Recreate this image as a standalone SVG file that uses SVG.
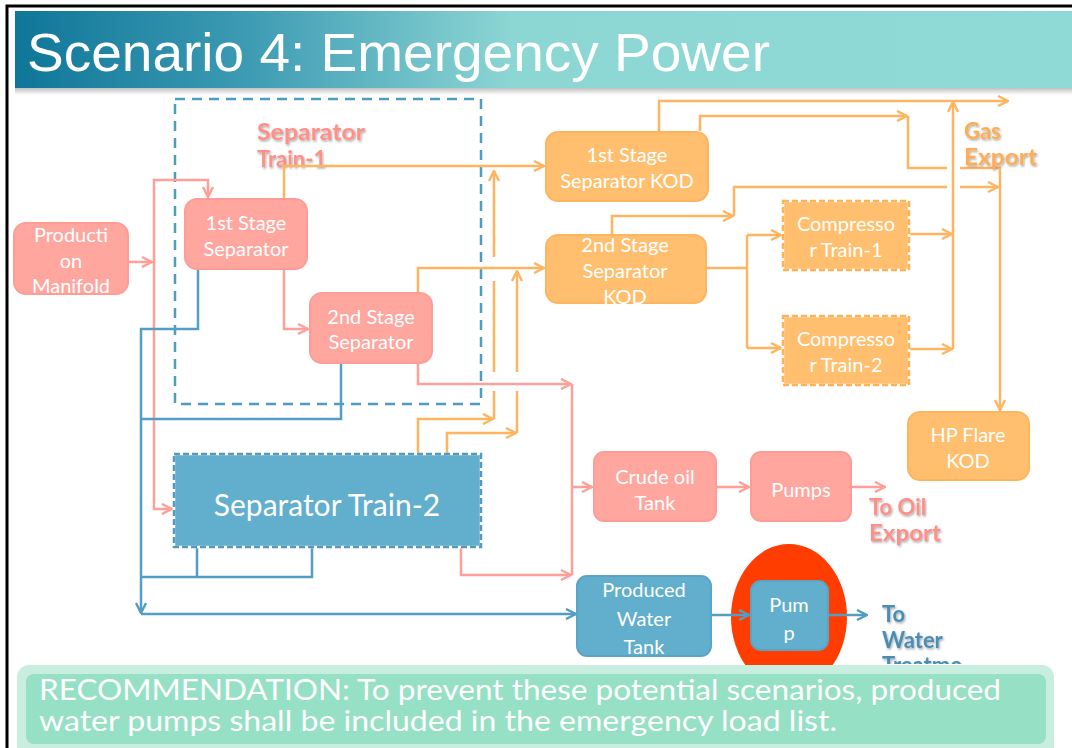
<svg xmlns="http://www.w3.org/2000/svg" width="1072" height="748" viewBox="0 0 1072 748">
<defs>
<linearGradient id="hdr" x1="0" y1="0" x2="1" y2="0">
<stop offset="0" stop-color="#0f7699"/>
<stop offset="0.22" stop-color="#3d9bb3"/>
<stop offset="0.47" stop-color="#8cd6d4"/>
<stop offset="1" stop-color="#8fd9d6"/>
</linearGradient>
<linearGradient id="hsh" x1="0" y1="0" x2="0" y2="1">
<stop offset="0" stop-color="#888" stop-opacity="0.6"/>
<stop offset="1" stop-color="#888" stop-opacity="0"/>
</linearGradient>
<filter id="sh" x="-10%" y="-20%" width="130%" height="150%">
<feDropShadow dx="1" dy="1.5" stdDeviation="0.8" flood-color="#000" flood-opacity="0.35"/>
</filter>
<clipPath id="abovebox"><rect x="0" y="0" width="1072" height="664"/></clipPath>
<marker id="ap" viewBox="0 0 12 12" refX="11" refY="6" markerWidth="12" markerHeight="12" markerUnits="userSpaceOnUse" orient="auto"><path d="M1,1 L11,6 L1,11" fill="none" stroke="#ff9f98" stroke-width="2.4"/></marker>
<marker id="ao" viewBox="0 0 12 12" refX="11" refY="6" markerWidth="12" markerHeight="12" markerUnits="userSpaceOnUse" orient="auto"><path d="M1,1 L11,6 L1,11" fill="none" stroke="#ffb45f" stroke-width="2.4"/></marker>
<marker id="ab" viewBox="0 0 12 12" refX="11" refY="6" markerWidth="12" markerHeight="12" markerUnits="userSpaceOnUse" orient="auto"><path d="M1,1 L11,6 L1,11" fill="none" stroke="#539ec3" stroke-width="2.4"/></marker>
</defs>
<style>
.ttl{font-family:"Liberation Sans",Arial,sans-serif;font-size:54px;fill:#fff}
.nt{font-family:Lato,"Noto Sans",sans-serif;font-size:20px;fill:#fff;text-anchor:middle}
.big{font-size:30px}
.lb{font-family:Lato,"Noto Sans",sans-serif;font-weight:bold;font-size:22px}
.pink{fill:#ffa69f;stroke:#ff9c95;stroke-width:2}
.orng{fill:#ffbf6e;stroke:#ffb560;stroke-width:2}
.blue{fill:#62aecd;stroke:#5aa4c6;stroke-width:2}
.dw{fill:none;stroke:#fff;stroke-width:2.5}
.cp,.co,.cb{fill:none;stroke-width:2.5}
.cp{stroke:#ff9f98}
.co{stroke:#ffb45f}
.cb{stroke:#539ec3}
.rec{font-family:Lato,"Noto Sans",sans-serif;font-size:28px;fill:#fff}
</style>

<!-- frame and header -->
<path d="M7,748 V6 H1072" fill="none" stroke="#000" stroke-width="3"/>
<rect x="15" y="87" width="1057" height="8" fill="url(#hsh)"/>
<rect x="15" y="11" width="1057" height="77" fill="url(#hdr)"/>
<text class="ttl" x="27" y="71" textLength="743" lengthAdjust="spacingAndGlyphs">Scenario 4: Emergency Power</text>

<!-- Separator Train-1 dashed boundary -->
<g id="separator-train-1">
<rect x="175" y="99" width="306" height="305" fill="none" stroke="#4c9dc2" stroke-width="2.5" stroke-dasharray="10 7"/>
<text class="lb" x="257" y="140" fill="#ff8f87" filter="url(#sh)" textLength="108" lengthAdjust="spacingAndGlyphs">Separator</text>
<text class="lb" x="257" y="167" fill="#ff8f87" filter="url(#sh)">Train-1</text>
</g>

<!-- highlight ellipse behind pump -->
<ellipse id="pump-highlight" cx="789" cy="617" rx="58" ry="73" fill="#ff3d00"/>

<!-- connectors -->
<g id="connectors">
<!-- pink oil -->
<path class="cp" d="M128,262 H152" marker-end="url(#ap)"/>
<path class="cp" d="M154,262 V180 H208 V197" marker-end="url(#ap)"/>
<path class="cp" d="M154,262 V509 H172" marker-end="url(#ap)"/>
<path class="cp" d="M284,269 V329 H308" marker-end="url(#ap)"/>
<path class="cp" d="M418,363 V384 H571" marker-end="url(#ap)"/>
<path class="cp" d="M572,384 V575"/>
<path class="cp" d="M572,487 H592" marker-end="url(#ap)"/>
<path class="cp" d="M461,548 V575 H571" marker-end="url(#ap)"/>
<path class="cp" d="M716,487 H749" marker-end="url(#ap)"/>
<path class="cp" d="M851,487 H885" marker-end="url(#ap)"/>
<!-- orange gas -->
<path class="co" d="M284,198 V166 H544" marker-end="url(#ao)"/>
<path class="co" d="M418,292 V268 H544" marker-end="url(#ao)"/>
<path class="co" d="M418,454 V419 H493" marker-end="url(#ao)"/>
<path class="co" d="M494,419 V391 M494,372 V281 M494,257 V171" marker-end="url(#ao)"/>
<path class="co" d="M447,454 V433 H516" marker-end="url(#ao)"/>
<path class="co" d="M517,433 V391 M517,372 V271" marker-end="url(#ao)"/>
<path class="co" d="M659,131 V101 H1008" marker-end="url(#ao)"/>
<path class="co" d="M700,131 V116 H907" marker-end="url(#ao)"/>
<path class="co" d="M908,116 V168 H947 M960,168 H1000 V410" marker-end="url(#ao)"/>
<path class="co" d="M612,234 V216 H733" marker-end="url(#ao)"/>
<path class="co" d="M734,216 V187 H947 M960,187 H998" marker-end="url(#ao)"/>
<path class="co" d="M706,268 H747"/>
<path class="co" d="M747,235 V348"/>
<path class="co" d="M747,235 H781" marker-end="url(#ao)"/>
<path class="co" d="M747,348 H781" marker-end="url(#ao)"/>
<path class="co" d="M910,234 H952" marker-end="url(#ao)"/>
<path class="co" d="M910,349 H952" marker-end="url(#ao)"/>
<path class="co" d="M953,349 V102" marker-end="url(#ao)"/>
<!-- blue water -->
<path class="cb" d="M198,269 V329 H141 V613" marker-end="url(#ab)"/>
<path class="cb" d="M141,614 H576" marker-end="url(#ab)"/>
<path class="cb" d="M341,363 V419 H141"/>
<path class="cb" d="M197,548 V577"/>
<path class="cb" d="M312,548 V577 H141"/>
<path class="cb" d="M711,615 H749" marker-end="url(#ab)"/>
<path class="cb" d="M828,615 H867" marker-end="url(#ab)"/>
</g>

<!-- nodes -->
<g id="production-manifold">
<rect class="pink" x="14" y="223" width="114" height="71" rx="12"/>
<text class="nt" x="71" y="242">Producti</text>
<text class="nt" x="71" y="268">on</text>
<text class="nt" x="71" y="293">Manifold</text>
</g>
<g id="first-stage-separator">
<rect class="pink" x="185" y="199" width="122" height="70" rx="12"/>
<text class="nt" x="246" y="230">1st Stage</text>
<text class="nt" x="246" y="256">Separator</text>
</g>
<g id="second-stage-separator">
<rect class="pink" x="310" y="293" width="122" height="70" rx="12"/>
<text class="nt" x="371" y="324">2nd Stage</text>
<text class="nt" x="371" y="349">Separator</text>
</g>
<g id="separator-train-2">
<rect x="174" y="454" width="307" height="93" fill="#62aecd"/>
<rect class="dw" x="174" y="454" width="307" height="93"/>
<rect x="174" y="454" width="307" height="93" fill="none" stroke="#5599bd" stroke-width="2.5" stroke-dasharray="6 3"/>
<text class="nt big" x="327" y="516">Separator Train-2</text>
</g>
<g id="first-stage-separator-kod">
<rect class="orng" x="546" y="132" width="162" height="69" rx="12"/>
<text class="nt" x="627" y="162">1st Stage</text>
<text class="nt" x="627" y="188">Separator KOD</text>
</g>
<g id="second-stage-separator-kod">
<rect class="orng" x="546" y="235" width="160" height="68" rx="12"/>
<text class="nt" x="625" y="252">2nd Stage</text>
<text class="nt" x="625" y="278">Separator</text>
<text class="nt" x="625" y="304">KOD</text>
</g>
<g id="compressor-train-1">
<rect x="783" y="201" width="126" height="69" fill="#ffbf6e"/>
<rect class="dw" x="783" y="201" width="126" height="69"/>
<rect x="783" y="201" width="126" height="69" fill="none" stroke="#ffb256" stroke-width="2.5" stroke-dasharray="6 3"/>
<text class="nt" x="846" y="231">Compresso</text>
<text class="nt" x="846" y="257">r Train-1</text>
</g>
<g id="compressor-train-2">
<rect x="783" y="316" width="126" height="69" fill="#ffbf6e"/>
<rect class="dw" x="783" y="316" width="126" height="69"/>
<rect x="783" y="316" width="126" height="69" fill="none" stroke="#ffb256" stroke-width="2.5" stroke-dasharray="6 3"/>
<text class="nt" x="846" y="346">Compresso</text>
<text class="nt" x="846" y="372">r Train-2</text>
</g>
<g id="hp-flare-kod">
<rect class="orng" x="908" y="412" width="121" height="68" rx="12"/>
<text class="nt" x="968" y="442">HP Flare</text>
<text class="nt" x="968" y="468">KOD</text>
</g>
<g id="crude-oil-tank">
<rect class="pink" x="594" y="452" width="122" height="69" rx="10"/>
<text class="nt" x="655" y="484">Crude oil</text>
<text class="nt" x="655" y="510">Tank</text>
</g>
<g id="pumps">
<rect class="pink" x="751" y="452" width="100" height="69" rx="10"/>
<text class="nt" x="801" y="497">Pumps</text>
</g>
<g id="produced-water-tank">
<rect class="blue" x="577" y="576" width="134" height="80" rx="10"/>
<text class="nt" x="644" y="597">Produced</text>
<text class="nt" x="644" y="626">Water</text>
<text class="nt" x="644" y="654">Tank</text>
</g>
<g id="pump">
<rect class="blue" x="751" y="581" width="77" height="69" rx="10"/>
<text class="nt" x="789" y="612">Pum</text>
<text class="nt" x="789" y="640">p</text>
</g>

<!-- outlet labels -->
<g id="gas-export-label">
<text class="lb" x="964" y="139" fill="#ffad55" filter="url(#sh)">Gas</text>
<text class="lb" x="964" y="165" fill="#ffad55" filter="url(#sh)" textLength="73" lengthAdjust="spacingAndGlyphs">Export</text>
</g>
<g id="oil-export-label">
<text class="lb" x="869" y="515" fill="#ff8f87" filter="url(#sh)">To Oil</text>
<text class="lb" x="869" y="541" fill="#ff8f87" filter="url(#sh)" textLength="72" lengthAdjust="spacingAndGlyphs">Export</text>
</g>
<g id="water-treatment-label" clip-path="url(#abovebox)">
<text class="lb" x="882" y="622" fill="#4b8db5" filter="url(#sh)">To</text>
<text class="lb" x="882" y="648" fill="#4b8db5" filter="url(#sh)">Water</text>
<text class="lb" x="882" y="673" fill="#4b8db5" filter="url(#sh)">Treatme</text>
</g>

<!-- recommendation -->
<g id="recommendation">
<rect x="17" y="665" width="1037" height="95" rx="12" fill="#c8eee0"/>
<rect x="26" y="674" width="1020" height="70" rx="8" fill="#96e0c5"/>
<text class="rec" x="39" y="700" textLength="962" lengthAdjust="spacingAndGlyphs">RECOMMENDATION: To prevent these potential scenarios, produced</text>
<text class="rec" x="39" y="731" textLength="798" lengthAdjust="spacingAndGlyphs">water pumps shall be included in the emergency load list.</text>
</g>
</svg>
